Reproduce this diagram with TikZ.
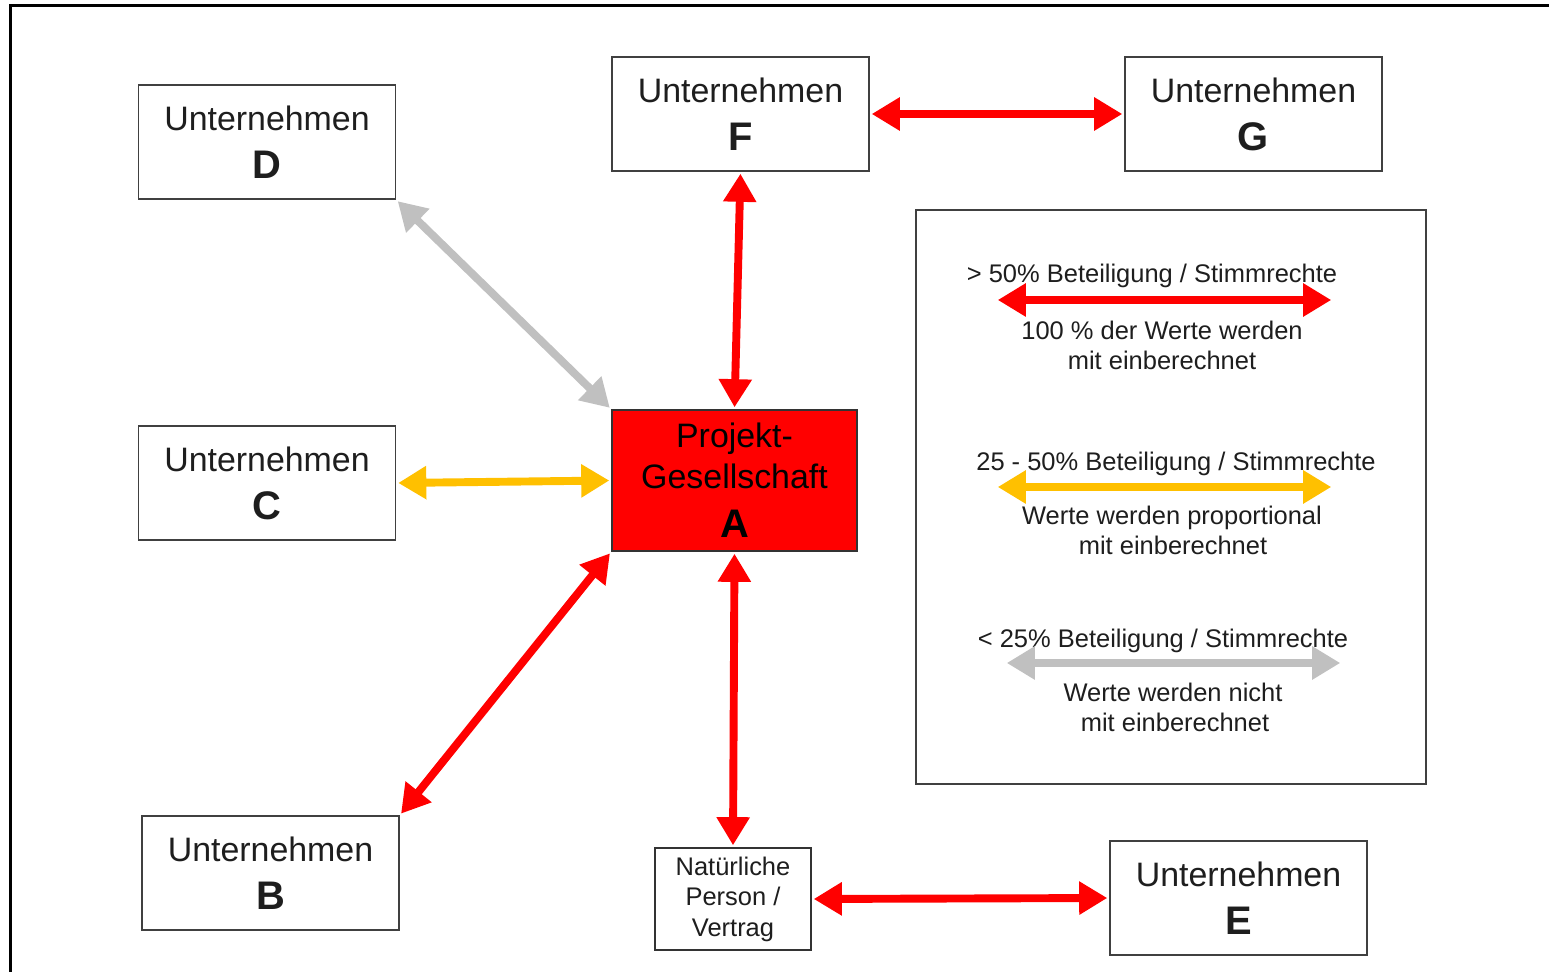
\documentclass[tikz,border=0pt]{standalone}
\usepackage{fontspec}
\setmainfont{Liberation Sans}
\usetikzlibrary{arrows.meta}
\definecolor{arred}{HTML}{FF0000}
\definecolor{argold}{HTML}{FFC000}
\definecolor{argray}{HTML}{C0C0C0}
\definecolor{txt}{HTML}{1E1E1E}
\newcommand{\boxfont}{\fontsize{19.3}{27.4}\selectfont}
\newcommand{\letterfont}{\fontsize{22.7}{27.4}\selectfont\bfseries}
\newcommand{\smallfont}{\fontsize{14.5}{17.4}\selectfont}
\tikzset{
  company/.style={draw=black!75, line width=1.1pt, fill=white, inner sep=0pt,
    align=center, text=txt, font=\boxfont, minimum width=5.14cm, minimum height=2.28cm},
  project/.style={draw=black!80, line width=1.1pt, fill=arred, inner sep=0pt,
    align=center, text=black, font=\fontsize{19.3}{23.2}\selectfont,
    minimum width=4.9cm, minimum height=2.82cm},
  person/.style={draw=black!80, line width=1.1pt, fill=white, inner sep=0pt,
    align=center, text=txt, font=\smallfont, minimum width=3.12cm, minimum height=2.04cm},
  legendbox/.style={draw=black!75, line width=1.1pt, fill=white, inner sep=0pt,
    minimum width=10.2cm, minimum height=11.48cm},
  legtext/.style={inner sep=0pt, anchor=base, text=txt, font=\smallfont},
  link/.style={line width=4.5pt, {Triangle[length=16pt,width=18pt]}-{Triangle[length=16pt,width=18pt]}, shorten <=1pt, shorten >=1pt},
  redlink/.style={link, draw=arred, fill=arred},
  goldlink/.style={link, draw=argold, fill=argold},
  graylink/.style={link, draw=argray, fill=argray},
}
\begin{document}
\begin{tikzpicture}[x=0.02cm,y=-0.02cm]
\useasboundingbox (0,0) rectangle (1549,972);
\fill[white] (0,0) rectangle (1549,972);
\draw[line width=1.4pt] (10.5,972) -- (10.5,5.5) -- (1549,5.5);

% company boxes
\node[company] (D) at (267,142) {Unternehmen\\{\letterfont D}};
\node[company] (F) at (740.5,114) {Unternehmen\\{\letterfont F}};
\node[company] (G) at (1253.5,114) {Unternehmen\\{\letterfont G}};
\node[company] (C) at (267,483) {Unternehmen\\{\letterfont C}};
\node[company] (B) at (270.5,873) {Unternehmen\\{\letterfont B}};
\node[company] (E) at (1238.5,898) {Unternehmen\\{\letterfont E}};
\node[project] (A) at (734.5,480.5) {Projekt-\\Gesellschaft\\[5pt]{\fontsize{22.7}{23.2}\selectfont\bfseries A}};
\node[person] (N) at (733,899) {Natürliche\\Person /\\Vertrag};

% legend
\node[legendbox] (L) at (1171,497) {};
\node[legtext] (l1) at (1152,283) {> 50\% Beteiligung / Stimmrechte};
\node[legtext] (l2) at (1162,340) {100 \% der Werte werden};
\node[legtext] (l3) at (1162,370) {mit einberechnet};
\coordinate (r1) at (996,300);
\coordinate (r2) at (1333,300);
\node[legtext] (y1) at (1176,471) {25 - 50\% Beteiligung / Stimmrechte};
\node[legtext] (y2) at (1172,525) {Werte werden proportional};
\node[legtext] (y3) at (1173,555) {mit einberechnet};
\coordinate (g1) at (996,487);
\coordinate (g2) at (1333,487);
\node[legtext] (z1) at (1163,648) {< 25\% Beteiligung / Stimmrechte};
\node[legtext] (z2) at (1173,702) {Werte werden nicht};
\node[legtext] (z3) at (1175,732) {mit einberechnet};
\coordinate (s1) at (1005,663);
\coordinate (s2) at (1342,663);

\draw[redlink] (r1) -- (r2);
\draw[goldlink] (g1) -- (g2);
\draw[graylink] (s1) -- (s2);

% connectors
\draw[redlink] (F) -- (G);
\draw[redlink] (F.south) -- (A.north);
\draw[graylink] (D.south east) -- (A.north west);
\draw[goldlink] (C.east) -- (A.west);
\draw[redlink] (B.north east) -- (A.south west);
\draw[redlink] (A.south) -- (N.north);
\draw[redlink] (N.east) -- (E.west);
\end{tikzpicture}
\end{document}
